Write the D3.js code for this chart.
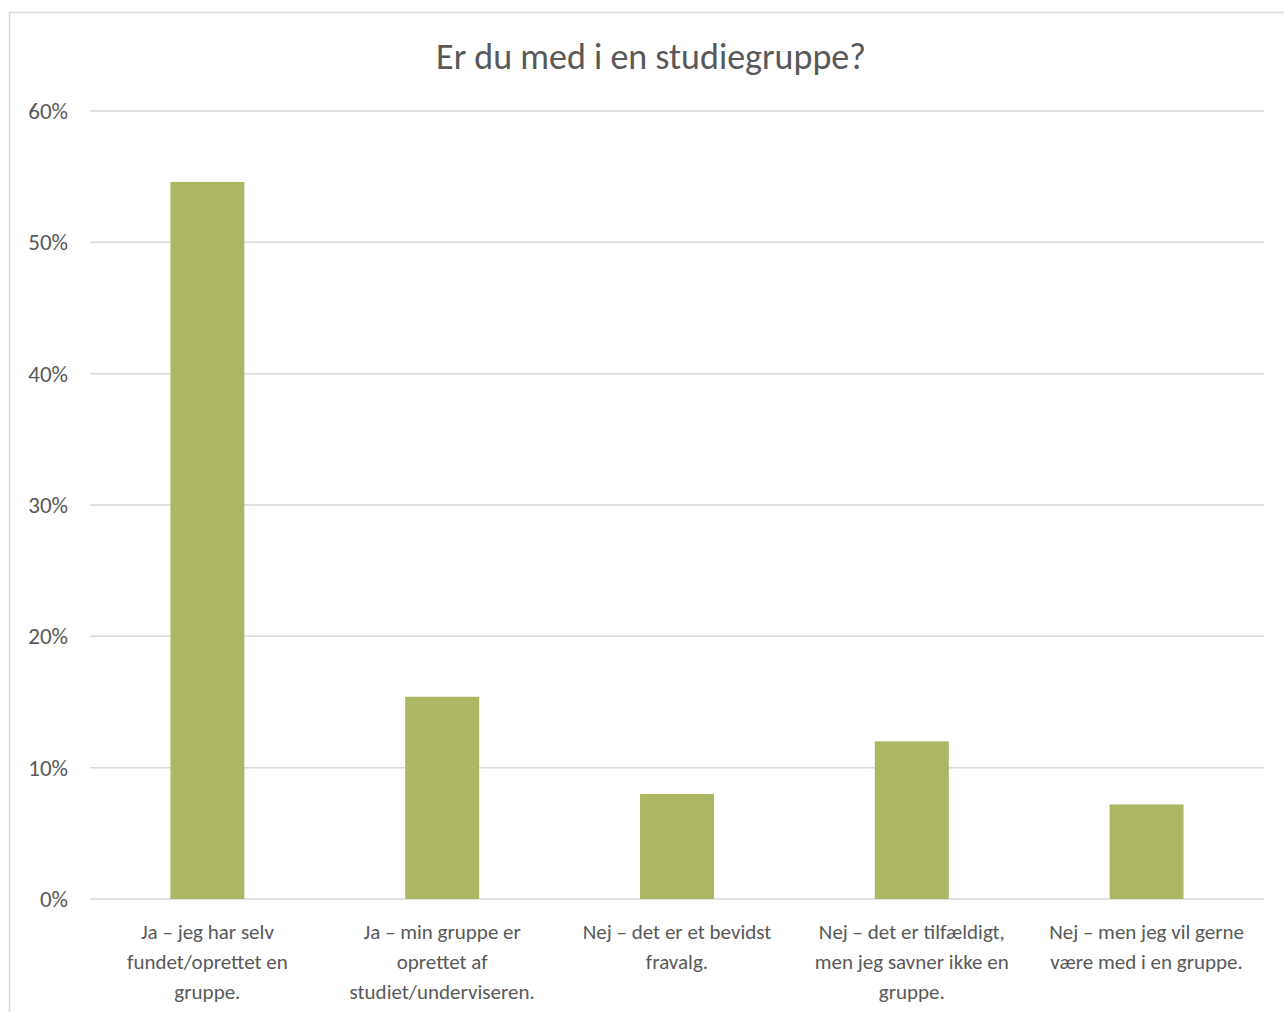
<!DOCTYPE html>
<html>
<head>
<meta charset="utf-8">
<script src="https://cdn.jsdelivr.net/npm/d3@7"></script>
<style>
  body { margin: 0; background: #fff; }
  svg text { font-family: Carlito, Calibri, Lato, "Open Sans", sans-serif; fill: #595959; }
</style>
</head>
<body>
<svg id="chart" width="1284" height="1012"></svg>
<script>
// chart data
const title = 'Er du med i en studiegruppe?';
const categories = [
    'Ja – jeg har selv\nfundet/oprettet en\ngruppe.',
    'Ja – min gruppe er\noprettet af\nstudiet/underviseren.',
    'Nej – det er et bevidst\nfravalg.',
    'Nej – det er tilfældigt,\nmen jeg savner ikke en\ngruppe.',
    'Nej – men jeg vil gerne\nvære med i en gruppe.',
];
const values = [0.546, 0.154, 0.08, 0.12, 0.072];
const yTicks = [0, 0.1, 0.2, 0.3, 0.4, 0.5, 0.6];

const svg = d3.select('#chart');
const plotLeft = 90, plotRight = 1264, plotTop = 111, plotBottom = 899;

// outer chart frame (runs off the right/bottom of the picture)
svg.append('rect')
    .attr('x', 9.5).attr('y', 12.5)
    .attr('width', 1300).attr('height', 1100)
    .attr('fill', 'none').attr('stroke', '#d9d9d9').attr('stroke-width', 1.5);

const x = d3.scaleBand().domain(d3.range(categories.length)).range([plotLeft, plotRight]).paddingInner(0.685).paddingOuter(0.3425);
const y = d3.scaleLinear().domain([0, 0.6]).range([plotBottom, plotTop]);

// gridlines
svg.append('g').selectAll('line').data(yTicks).enter().append('line')
    .attr('x1', plotLeft).attr('x2', plotRight)
    .attr('y1', (d) => y(d)).attr('y2', (d) => y(d))
    .attr('stroke', '#d9d9d9').attr('stroke-width', 1.5);

// y tick labels
svg.append('g').selectAll('text').data(yTicks).enter().append('text')
    .attr('x', 68).attr('y', (d) => y(d))
    .attr('text-anchor', 'end').attr('dominant-baseline', 'central')
    .attr('font-size', '23px')
    .text(d3.format('.0%'));

// bars
svg.append('g').selectAll('rect').data(values).enter().append('rect')
    .attr('x', (d, i) => x(i)).attr('width', x.bandwidth())
    .attr('y', (d) => y(d)).attr('height', (d) => plotBottom - y(d))
    .attr('fill', '#adb763');

// category labels
const lab = svg.append('g').selectAll('text').data(categories).enter().append('text')
    .attr('text-anchor', 'middle').attr('font-size', '21px');
lab.each(function (d, i) {
    const t = d3.select(this);
    d.split('\n').forEach((line, k) => {
        t.append('tspan')
            .attr('x', x(i) + x.bandwidth() / 2)
            .attr('y', 939 + k * 30)
            .text(line);
    });
});

// title
svg.append('text')
    .attr('x', 651).attr('y', 69)
    .attr('text-anchor', 'middle').attr('font-size', '36px')
    .text(title);
</script>
</body>
</html>
